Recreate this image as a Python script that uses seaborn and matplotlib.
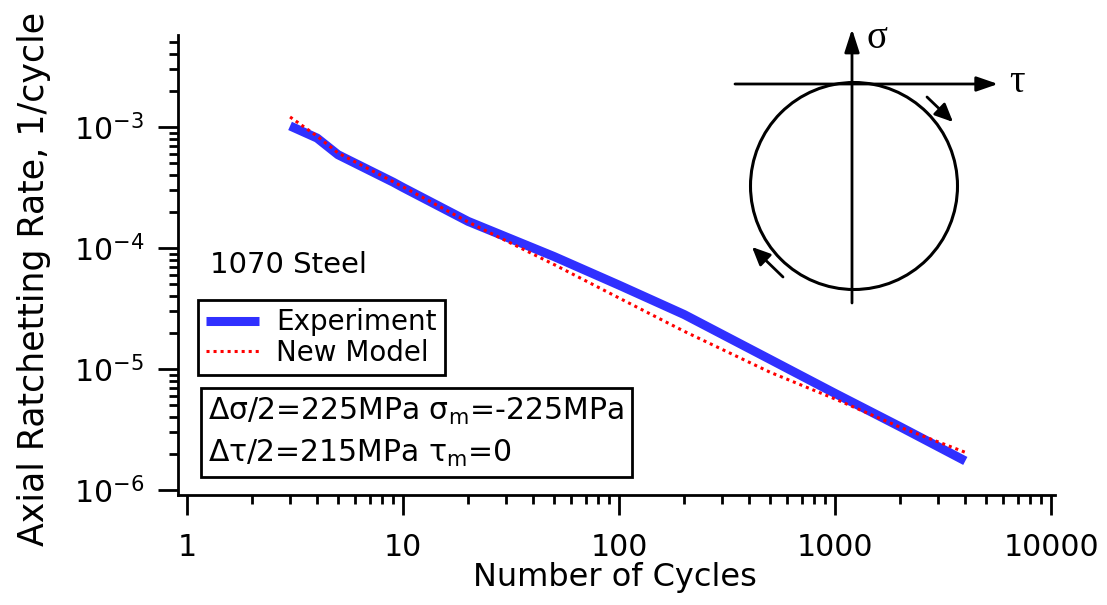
import numpy as np
import pandas as pd
import seaborn as sns
import matplotlib
matplotlib.use("Agg")
import matplotlib.pyplot as plt
from matplotlib.ticker import FixedLocator, FuncFormatter, LogLocator, NullFormatter
from matplotlib.patches import Rectangle, Circle, FancyArrowPatch

# ---------------- data ----------------
cycles_exp = [3, 4, 5, 9, 10, 20, 50, 100, 200, 500, 1000, 2000, 4000]
rate_exp = [1.02e-3, 8.1e-4, 5.9e-4, 3.5e-4, 3.16e-4, 1.66e-4, 8.5e-5,
            4.93e-5, 2.82e-5, 1.2e-5, 6.28e-6, 3.33e-6, 1.74e-6]

cycles_model = [3, 4, 5, 10, 20, 50, 100, 200, 500, 1000, 2000, 4000]
rate_model = [1.21e-3, 8.4e-4, 6.1e-4, 3.2e-4, 1.64e-4, 7.3e-5, 3.86e-5,
              2.05e-5, 9.4e-6, 5.65e-6, 3.3e-6, 2.05e-6]

series_names = ["Experiment", "New Model"]
x_ticks = [1, 10, 100, 1000, 10000]
x_tick_labels = ["1", "10", "100", "1000", "10000"]
y_ticks = [1e-6, 1e-5, 1e-4, 1e-3]

# ---------------- style ----------------
sns.set_theme(style="ticks")
plt.rcParams["font.family"] = ["DejaVu Sans"]
plt.rcParams["mathtext.default"] = "regular"
for k in ["text.color", "axes.labelcolor", "xtick.color", "ytick.color", "axes.edgecolor"]:
    plt.rcParams[k] = "black"

fig = plt.figure(figsize=(11.07, 6.05), dpi=100)
fig.patch.set_facecolor("white")
ax = fig.add_axes([0.1608, 0.1818, 0.7922, 0.7603])

df_exp = pd.DataFrame({"cycles": cycles_exp, "rate": rate_exp})
df_mod = pd.DataFrame({"cycles": cycles_model, "rate": rate_model})

sns.lineplot(data=df_exp, x="cycles", y="rate", ax=ax, color="#3030ff",
             linewidth=6.5, label=series_names[0], solid_capstyle="butt",
             sort=False)
sns.lineplot(data=df_mod, x="cycles", y="rate", ax=ax, color="#ff0000",
             linewidth=2.2, linestyle=(0, (1, 1.3)), label=series_names[1],
             sort=False)

ax.set_xscale("log")
ax.set_yscale("log")
ax.set_xlim(0.909, 1.04e4)
ax.set_ylim(0.91e-6, 5.75e-3)

for s in ["top", "right"]:
    ax.spines[s].set_visible(False)
for s in ["left", "bottom"]:
    ax.spines[s].set_linewidth(2)
    ax.spines[s].set_color("black")

ax.xaxis.set_major_locator(FixedLocator(x_ticks))
ax.xaxis.set_major_formatter(FuncFormatter(
    lambda v, p: x_tick_labels[x_ticks.index(int(round(v)))] if int(round(v)) in x_ticks else ""))
ax.xaxis.set_minor_locator(LogLocator(base=10, subs=np.arange(2, 10)))
ax.xaxis.set_minor_formatter(NullFormatter())

ax.yaxis.set_major_locator(FixedLocator(y_ticks))
ax.yaxis.set_major_formatter(FuncFormatter(lambda v, p: r"$10^{%d}$" % int(round(np.log10(v)))))
ax.yaxis.set_minor_locator(LogLocator(base=10, subs=np.arange(2, 10)))
ax.yaxis.set_minor_formatter(NullFormatter())

ax.tick_params(which="major", length=14.5, width=2, direction="out", labelsize=21.6)
ax.tick_params(which="minor", length=6.5, width=2, direction="out")
ax.tick_params(axis="x", which="major", pad=13)
ax.tick_params(axis="y", which="major", pad=10)

ax.set_xlabel("Number of Cycles", fontsize=23)
ax.set_ylabel("Axial Ratchetting Rate, 1/cycle", fontsize=25)
ax.xaxis.set_label_coords(0.4977, -0.145)
ax.yaxis.set_label_coords(-0.145, 0.4696)

ax.text(0.0365, 0.4826, "1070 Steel", transform=ax.transAxes, fontsize=21,
        va="baseline", ha="left")

leg = ax.legend(loc="upper left", bbox_to_anchor=(0.0228, 0.4239), borderaxespad=0,
                frameon=True, fancybox=False, edgecolor="black", framealpha=1,
                fontsize=20, handlelength=1.9, handletextpad=0.6,
                labelspacing=0.1, borderpad=0.3)
leg.get_frame().set_linewidth(2)

ax.add_patch(Rectangle((0.0262, 0.0391), 0.4915, 0.1935, transform=ax.transAxes,
                       fill=False, lw=2, ec="black", zorder=5))
ax.text(0.0342, 0.163, "Δσ/2=225MPa σ$_\\mathregular{m}$=-225MPa", transform=ax.transAxes,
        fontsize=21.5, va="baseline", ha="left")
ax.text(0.0342, 0.0717, "Δτ/2=215MPa τ$_\\mathregular{m}$=0", transform=ax.transAxes,
        fontsize=21.5, va="baseline", ha="left")

# ---------------- inset loading-path sketch (pixel coordinates) ----------------
ov = fig.add_axes([0, 0, 1, 1], facecolor="none")
ov.set_xlim(0, 1107)
ov.set_ylim(605, 0)
ov.axis("off")

circ_c = (854, 186)
circ_r = 103.5
ov.add_patch(Circle(circ_c, circ_r, fill=False, lw=2.2, ec="black"))

def arrow(p0, p1, hl, hw, lw=2.0):
    ov.add_patch(FancyArrowPatch(p0, p1, arrowstyle="-|>,head_length=%g,head_width=%g" % (hl, hw),
                                 mutation_scale=10, lw=lw, color="black",
                                 shrinkA=0, shrinkB=0))

arrow((735, 84), (998, 84), 1.3, 0.45)
arrow((852, 303), (852, 29), 1.4, 0.45)
arrow((927, 97), (953, 122), 1.1, 0.5)
arrow((783, 277), (752, 247), 1.1, 0.5)

ov.text(877, 39, "σ", fontsize=28, family=["Liberation Serif", "DejaVu Serif"],
        ha="center", va="center")
ov.text(1017, 83, "τ", fontsize=28, family=["Liberation Serif", "DejaVu Serif"],
        ha="center", va="center")

fig.savefig("out.png", dpi=100)
